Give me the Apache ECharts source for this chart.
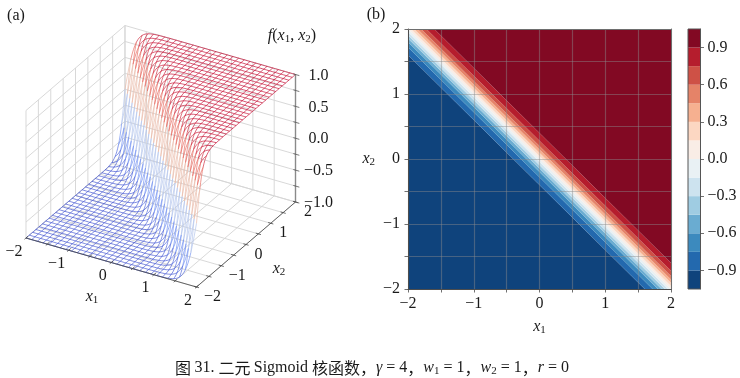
<!DOCTYPE html>
<html><head><meta charset="utf-8">
<style>html,body{margin:0;padding:0;background:#fff}#c{width:740px;height:378px}</style>
<script src="https://cdn.jsdelivr.net/npm/echarts@6/dist/echarts.min.js"></script>
</head><body><div id="c"></div>
<script>
// ---------- data ----------
const axisTicks = [-2,-1.5,-1,-0.5,0,0.5,1,1.5,2];
const axisLabels = [-2,-1,0,1,2];
const zTicks = [-1,-0.75,-0.5,-0.25,0,0.25,0.5,0.75,1];
const zLabels = [-1,-0.5,0,0.5,1];
const wireCount = 30;
const wireSub = 4;
// surface height f against distance k/30 from the diagonal x1 + x2 = 0 (mirrored below it)
const surfaceProfile = [0,0.1326,0.2605,0.3799,0.4880,0.5828,0.6640,0.7319,0.7883,0.8337,0.8701,
  0.8991,0.9217,0.9396,0.9534,0.9640,0.9723,0.9787,0.9837,0.9874,0.9904,
  0.9926,0.9943,0.9957,0.9967,0.9975,0.9981,0.9985,0.9989,0.9991,0.9993,1];
const coolwarm = ['#3f52d0','#8db0fe','#dddcdc','#f49a7b','#c40a30'];
const contourLevels = [-1.05,-0.9,-0.75,-0.6,-0.45,-0.3,-0.15,0,0.15,0.3,0.45,0.6,0.75,0.9,1.05];
const contourSums = [-4,-0.40,-0.28,-0.20,-0.145,-0.095,-0.045,0,0.045,0.095,0.145,0.20,0.28,0.40,4];
const bandColors = ['#0f437c','#2369ae','#3c8abe','#6aacd1','#9fcce2','#cde3ef','#e9f1f4','#f9ede6','#fcd7c2','#f6b090','#e58368','#ce5146','#b51d2d','#820923'];
const colorbarTicks = [-0.9,-0.6,-0.3,0,0.3,0.6,0.9];

// ---------- helpers ----------
const SERIF = '"Liberation Serif"';
const CJK = '"Noto Sans CJK SC"';
const INK = '#1a1a1a';
const FS = 16;
const fmt = (v,d)=> (v<0?'\u2212':'')+Math.abs(v).toFixed(d);
// oblique projection of the 3D box: floor corners and wall height (layout)
const BOX = {ox:26, oy:238, x1dx:170.5, x1dy:49, x2dx:99, x2dy:-85, h:127.5};
function project(x1,x2,z){
  const a=(x1+2)/4, b=(x2+2)/4, c=(z+1)/2;
  return [BOX.ox+a*BOX.x1dx+b*BOX.x2dx, BOX.oy+a*BOX.x1dy+b*BOX.x2dy-c*BOX.h];
}
function surfaceZ(x1,x2){
  const k=Math.round(Math.abs(x1+x2)*30);
  const v=surfaceProfile[Math.min(k,surfaceProfile.length-1)];
  return (x1+x2)<0?-v:v;
}
// segments of box: [x1a,x2a,za,x1b,x2b,zb,style]
const boxSegs=[];
axisTicks.forEach(t=>{
  boxSegs.push([-2,t,-1,-2,t,1,0]);   // wall x1=-2 verticals
  boxSegs.push([t,2,-1,t,2,1,0]);     // wall x2=2 verticals
  boxSegs.push([t,-2,-1,t,2,-1,0]);   // floor
  boxSegs.push([-2,t,-1,2,t,-1,0]);   // floor
});
zTicks.forEach(t=>{
  boxSegs.push([-2,-2,t,-2,2,t,0]);
  boxSegs.push([-2,2,t,2,2,t,0]);
});
const axisSegs=[];
axisSegs.push([-2,-2,-1,2,-2,-1,1]);
axisSegs.push([2,-2,-1,2,2,-1,1]);
axisSegs.push([2,2,-1,2,2,1,2]);
axisTicks.forEach(t=>{
  axisSegs.push([t,-2.06,-1,t,-1.92,-1,1]);
  axisSegs.push([2.06,t,-1,1.94,t,-1,1]);
});
zTicks.forEach(t=>{ axisSegs.push([1.95,2,t,2.09,2,t,3]); });
const segStyles=[{stroke:'#d6d6d6',lineWidth:0.95},{stroke:'#444',lineWidth:0.8},{stroke:'#8a8a8a',lineWidth:1.4},{stroke:'#555',lineWidth:0.8}];
function segRender(list){
  return function(p,api){
    const s=list[api.value(0)];
    const a=project(s[0],s[1],s[2]), b=project(s[3],s[4],s[5]);
    return {type:'line',shape:{x1:a[0],y1:a[1],x2:b[0],y2:b[1]},style:Object.assign({fill:null},segStyles[s[6]]),silent:true};
  };
}
// wireframe edges
const wires=[];
const step=4/wireCount, sub=step/wireSub;
for(let i=0;i<=wireCount;i++){
  for(let j=0;j<wireCount;j++){
    const fixed=-2+i*step, start=-2+j*step;
    const a=[],b=[];
    let sum=0;
    for(let k=0;k<=wireSub;k++){
      const m=start+k*sub;
      const z1=surfaceZ(fixed,m), z2=surfaceZ(m,fixed);
      a.push(project(fixed,m,z1)); b.push(project(m,fixed,z2));
      sum+=z1;
    }
    const mean=sum/(wireSub+1);
    const col=echarts.color.lerp((mean+1)/2,coolwarm);
    wires.push({pts:a,col},{pts:b,col});
  }
}
function labelSeries(items){
  return {type:'custom',coordinateSystem:'none',silent:true,z:6,
    data:items.map((_,i)=>[i]),
    renderItem(p,api){
      const it=items[api.value(0)];
      return {type:'text',style:{text:it.t,x:it.x,y:it.y,align:'center',verticalAlign:'middle',
        font:FS+'px '+SERIF,fill:INK},silent:true};
    }};
}
const labels3d=[];
axisLabels.forEach(t=>{
  const p=project(t,-2,-1);
  labels3d.push({t:fmt(t,0),x:p[0]-(t<0?12:8.5),y:p[1]+13.5});
  const q=project(2,t,-1);
  labels3d.push({t:fmt(t,0),x:q[0]+(t<0?16:12.5),y:q[1]+10});
});
zLabels.forEach(t=>{
  const p=project(2,2,t);
  labels3d.push({t:fmt(t,1),x:p[0]+23,y:p[1]+1});
});

const rich={
  i:{fontFamily:SERIF,fontStyle:'italic',fontSize:FS,fill:INK,color:INK},
  r:{fontFamily:SERIF,fontSize:FS,fill:INK,color:INK},
  s:{fontFamily:SERIF,fontSize:11,fill:INK,color:INK,padding:[7,0,0,0]},
  c:{fontFamily:CJK,fontSize:FS,fill:INK,color:INK}
};
const x1Name='{i|x}{s|1}', x2Name='{i|x}{s|2}';
function gtext(text,x,y,align){
  return {type:'text',silent:true,z:10,style:{text,x,y,align:align||'center',verticalAlign:'middle',rich,fill:INK}};
}
const caption='{c|图} {r|31. }{c|二元} {r|Sigmoid }{c|核函数，}{i|γ}{r| = 4}{c|，}{i|w}{s|1}{r| = 1}{c|，}{i|w}{s|2}{r| = 1}{c|，}{i|r}{r| = 0}';

const chart=echarts.init(document.getElementById('c'),null,{renderer:'canvas'});
const tickFmt=v=>Number.isInteger(v)?fmt(v,0):'';
const lineDark={lineStyle:{color:'#4d4d4d',width:1}};
const gridCol='rgba(140,140,140,0.45)';
chart.setOption({
  animation:false,backgroundColor:'#fff',
  graphic:[
    gtext('{r|(a)}',16,16),
    gtext('{r|(b)}',376,15),
    gtext(x1Name,92,297),
    gtext(x2Name,279,269),
    gtext('{i|f}{r|(}{i|x}{s|1}{r|, }{i|x}{s|2}{r|)}',292,36),
    gtext(caption,372,368)
  ],
  grid:[
    {left:408,top:29,width:263,height:260},
    {left:688,top:29,width:12.5,height:260}
  ],
  xAxis:[
    {gridIndex:0,type:'value',min:-2,max:2,interval:0.5,z:5,position:'bottom',
     axisLine:Object.assign({show:true,onZero:false},lineDark),
     axisTick:{show:true,length:3.5,lineStyle:{color:'#4d4d4d',width:0.8}},
     splitLine:{show:true,lineStyle:{color:gridCol,width:1.2}},
     axisLabel:{formatter:tickFmt,fontFamily:SERIF,fontSize:FS,color:INK,margin:7,hideOverlap:false},
     name:x1Name,nameLocation:'middle',nameGap:29,nameTextStyle:{rich,color:INK}},
    {gridIndex:0,type:'value',min:-2,max:2,interval:0.5,z:5,position:'top',
     axisLine:{show:true,onZero:false,lineStyle:{color:'#6e6e6e',width:1}},axisTick:{show:false},axisLabel:{show:false},splitLine:{show:false}},
    {gridIndex:1,type:'value',min:0,max:1,show:false}
  ],
  yAxis:[
    {gridIndex:0,type:'value',min:-2,max:2,interval:0.5,z:5,position:'left',
     axisLine:Object.assign({show:true,onZero:false},lineDark),
     axisTick:{show:true,length:3.5,lineStyle:{color:'#4d4d4d',width:0.8}},
     splitLine:{show:true,lineStyle:{color:gridCol,width:1.2}},
     axisLabel:{formatter:tickFmt,fontFamily:SERIF,fontSize:FS,color:INK,margin:8,padding:[2,0,0,0],hideOverlap:false},
     name:x2Name,nameLocation:'middle',nameGap:33,nameRotate:0,nameTextStyle:{rich,color:INK}},
    {gridIndex:0,type:'value',min:-2,max:2,interval:0.5,z:5,position:'right',
     axisLine:{show:true,onZero:false,lineStyle:{color:'#6e6e6e',width:1}},axisTick:{show:false},axisLabel:{show:false},splitLine:{show:false}},
    {gridIndex:1,type:'value',min:-1.05,max:1.05,position:'right',z:5,
     axisLine:{show:true,onZero:false,lineStyle:{color:'#555',width:1}},
     axisTick:{show:true,length:3.5,customValues:colorbarTicks,lineStyle:{color:'#4d4d4d',width:0.8}},
     axisLabel:{show:true,customValues:colorbarTicks,formatter:v=>fmt(v,1),fontFamily:SERIF,fontSize:FS,color:INK,margin:7,hideOverlap:false},
     splitLine:{show:false}}
  ],
  series:[
    {type:'custom',coordinateSystem:'none',z:1,silent:true,data:boxSegs.map((_,i)=>[i]),renderItem:segRender(boxSegs)},
    {type:'custom',coordinateSystem:'none',z:3,silent:true,data:wires.map((_,i)=>[i]),
     renderItem(p,api){
       const w=wires[api.value(0)];
       return {type:'polyline',shape:{points:w.pts},style:{stroke:w.col,lineWidth:0.7,fill:null},silent:true};
     }},
    {type:'custom',coordinateSystem:'none',z:4,silent:true,data:axisSegs.map((_,i)=>[i]),renderItem:segRender(axisSegs)},
    labelSeries(labels3d),
    {type:'custom',coordinateSystem:'cartesian2d',xAxisIndex:0,yAxisIndex:0,z:2,silent:true,clip:false,
     data:bandColors.map((_,i)=>[i]),
     renderItem(p,api){
       const i=api.value(0), a=contourSums[i], b=contourSums[i+1];
       const pos=(a>=0&&b>0);
       const corners=pos?[[a-2,2],[2,a-2],[2,b-2],[b-2,2]]:[[-2,a+2],[a+2,-2],[b+2,-2],[-2,b+2]];
       return {type:'polygon',shape:{points:corners.map(c=>api.coord(c))},style:{fill:bandColors[i],stroke:null},silent:true};
     }},
    {type:'custom',coordinateSystem:'cartesian2d',xAxisIndex:2,yAxisIndex:2,z:2,silent:true,clip:false,
     data:bandColors.map((_,i)=>[i]),
     renderItem(p,api){
       const i=api.value(0);
       const a=api.coord([0,contourLevels[i]]), b=api.coord([1,contourLevels[i+1]]);
       return {type:'rect',shape:{x:a[0],y:b[1],width:b[0]-a[0],height:a[1]-b[1]},style:{fill:bandColors[i],stroke:null},silent:true};
     }},
    {type:'custom',coordinateSystem:'cartesian2d',xAxisIndex:2,yAxisIndex:2,z:4,silent:true,clip:false,
     data:[[0]],
     renderItem(p,api){
       const a=api.coord([0,-1.05]), b=api.coord([1,1.05]);
       return {type:'rect',shape:{x:a[0],y:b[1],width:b[0]-a[0],height:a[1]-b[1]},style:{fill:null,stroke:'#555',lineWidth:1},silent:true};
     }}
  ]
});
</script></body></html>
